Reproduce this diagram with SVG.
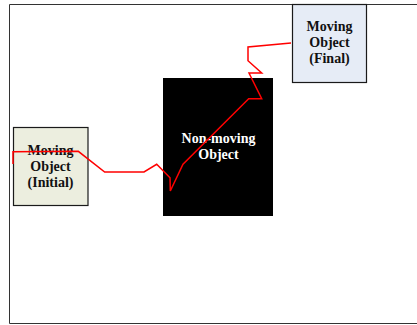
<svg xmlns="http://www.w3.org/2000/svg" width="417" height="325" viewBox="0 0 417 325">
<style>
.lbl{font-family:"Liberation Serif","Times New Roman",serif;font-weight:bold;font-size:14px;text-anchor:middle}
.box{stroke:#1a1a1a;stroke-width:1.2}
</style>
<rect width="417" height="325" fill="#fff"/>
<g id="frame"><polyline points="418,4.5 9.5,4.5 9.5,323.5 418,323.5" fill="none" stroke="#333" stroke-width="1"/></g>
<g id="initial">
<rect class="box" x="13.5" y="127.5" width="74.5" height="78" fill="#ECEEDF"/>
<text class="lbl" x="50.5" y="155" fill="#111">Moving</text>
<text class="lbl" x="50.5" y="171" fill="#111">Object</text>
<text class="lbl" x="50.5" y="187" fill="#111">(Initial)</text>
</g>
<g id="obstacle">
<rect x="163" y="78" width="110" height="138" fill="#000"/>
<text class="lbl" x="218.5" y="142.5" fill="#fff">Non-moving</text>
<text class="lbl" x="218.5" y="158.5" fill="#fff">Object</text>
</g>
<g id="final">
<rect class="box" x="292.5" y="4.5" width="74" height="78" fill="#E6ECF6"/>
<text class="lbl" x="329.5" y="30.5" fill="#111">Moving</text>
<text class="lbl" x="329.5" y="47" fill="#111">Object</text>
<text class="lbl" x="329.5" y="63" fill="#111">(Final)</text>
</g>
<g id="connectors">
<polyline points="13,164 13,151.7 78.3,151.3 104.7,172 144,172 156.7,164.3 170,177.7 170.3,191 183,164.3 248.7,98.7 261.7,98.7 249,73 261.7,73 248,60.7 248,47 291,43" fill="none" stroke="#f00" stroke-width="1.5" stroke-linejoin="miter"/>
</g>
</svg>
